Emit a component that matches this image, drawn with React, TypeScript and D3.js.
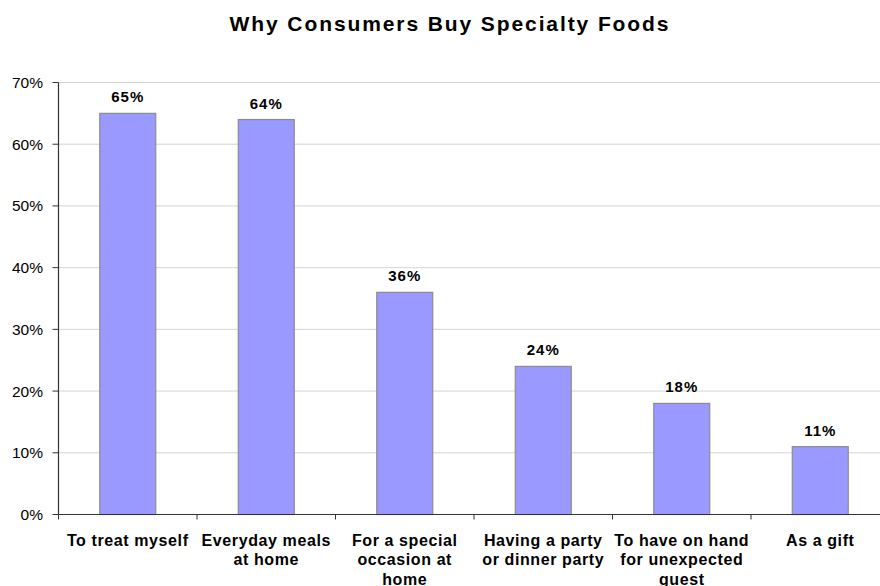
import React from "react";
import * as d3 from "d3";

const categories: string[][] = [
  ["To treat myself"],
  ["Everyday meals", "at home"],
  ["For a special", "occasion at", "home"],
  ["Having a party", "or dinner party"],
  ["To have on hand", "for unexpected", "guest"],
  ["As a gift"],
];
const values: number[] = [65, 64, 36, 24, 18, 11];
const yTicks: number[] = [0, 10, 20, 30, 40, 50, 60, 70];
const title = "Why Consumers Buy Specialty Foods";

export default function App() {
  const W = 880, H = 586;
  const left = 58.5, bandW = 138.5;
  const x = d3.scaleBand<number>()
    .domain(d3.range(categories.length))
    .range([left, left + bandW * categories.length])
    .paddingInner(0.596)
    .paddingOuter(0.298);
  const y = d3.scaleLinear().domain([0, 70]).range([514.5, 82.5]);
  const font = "'Liberation Sans', Arial, sans-serif";
  return (
    <svg width={W} height={H} style={{ position: "absolute", left: 0, top: 0, background: "#fff" }} fontFamily={font}>
      <text x={450} y={31} textAnchor="middle" fontSize={21} fontWeight="bold" letterSpacing={1.9}>{title}</text>
      {yTicks.map((t) => (
        <g key={t}>
          {t > 0 && <line x1={left} x2={W} y1={y(t)} y2={y(t)} stroke="#d4d4d4" strokeWidth={1} />}
          <line x1={left - 6} x2={left} y1={y(t)} y2={y(t)} stroke="#333" strokeWidth={1} />
          <text x={43} y={y(t) + 5.5} textAnchor="end" fontSize={15.5}>{t}%</text>
        </g>
      ))}
      {values.map((v, i) => (
        <g key={i}>
          <rect x={x(i)} y={y(v)} width={x.bandwidth()} height={y(0) - y(v)} fill="#9999ff" stroke="#8c8c8c" strokeWidth={1.2} />
          <text x={(x(i) as number) + x.bandwidth() / 2} y={y(v) - 11} textAnchor="middle" fontSize={15} fontWeight="bold" letterSpacing={1}>{v}%</text>
        </g>
      ))}
      <line x1={left} x2={left} y1={y(70)} y2={y(0)} stroke="#333" strokeWidth={1.2} />
      <line x1={left} x2={W} y1={y(0)} y2={y(0)} stroke="#333" strokeWidth={1.2} />
      {d3.range(categories.length + 1).map((i) => (
        <line key={i} x1={left + i * bandW} x2={left + i * bandW} y1={y(0)} y2={y(0) + 5} stroke="#333" strokeWidth={1} />
      ))}
      {categories.map((lines, i) => (
        <text key={i} x={(x(i) as number) + x.bandwidth() / 2} y={545.5} textAnchor="middle" fontSize={16} fontWeight="bold" letterSpacing={0.6}>
          {lines.map((l, j) => (
            <tspan key={j} x={(x(i) as number) + x.bandwidth() / 2} dy={j === 0 ? 0 : 19.5}>{l}</tspan>
          ))}
        </text>
      ))}
    </svg>
  );
}
